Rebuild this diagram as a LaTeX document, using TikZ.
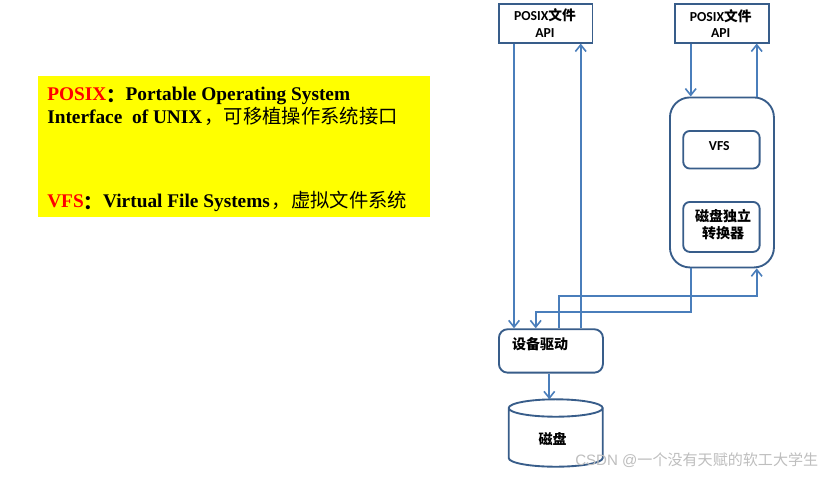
\documentclass[tikz,border=0pt]{standalone}
\usepackage{fontspec}
\setmainfont{Liberation Serif}
\setsansfont{Liberation Sans}
\newfontfamily\cjk{Noto Sans CJK SC}
\newfontfamily\lab{Carlito}
\usetikzlibrary{arrows.meta}
\definecolor{edgeblue}{HTML}{385D8A}
\definecolor{linkblue}{HTML}{4A7EBB}
\definecolor{panely}{RGB}{255,255,0}
\definecolor{notered}{RGB}{255,0,0}
\definecolor{markgray}{RGB}{190,190,190}
\tikzset{
  box/.style={draw=edgeblue,line width=1.4pt,fill=white,inner sep=0pt,anchor=north west},
  rbox/.style={box,rounded corners=#1},
  link/.style={draw=linkblue,line width=1.3pt,-{Straight Barb[length=5pt,width=8pt,line width=1.2pt]}},
  boxtext/.style={font=\lab\bfseries\fontsize{10.3}{12.6}\selectfont,align=center,text=black,inner sep=0pt},
  cjktext/.style={font=\cjk\bfseries\fontsize{10.5}{12.8}\selectfont,align=center,text=black,inner sep=0pt},
  note/.style={font=\rmfamily\bfseries\fontsize{14.5}{19}\selectfont,anchor=west,text=black,inner sep=0pt},
}
\newcommand{\bx}[6]{\node[#2,minimum width=#5*0.75pt,minimum height=#6*0.75pt] (#1) at (#3,#4) {};}
\newcommand{\zh}[1]{{\cjk\mdseries #1}}
\newcommand{\zhc}{\raisebox{-1.5pt}{\cjk\bfseries ：}}
\begin{document}
\begin{tikzpicture}[x=0.75pt,y=-0.75pt]
\useasboundingbox (0,0) rectangle (830,476);
\fill[white] (0,0) rectangle (830,476);
% yellow panel
\node[fill=panely,inner sep=0pt,anchor=north west,minimum width=392*0.75pt,minimum height=141*0.75pt] (panel) at (38,76) {};
\node[note,anchor=base west] (n1) at (47,100.7) {\textcolor{notered}{POSIX}\zhc Portable Operating System};
\node[note,anchor=base west] (n2) at (47,123.4) {Interface\ \ of UNIX\kern1.5pt\zh{，可移植操作系统接口}};
\node[note,anchor=base west] (n3) at (47,207.7) {\textcolor{notered}{VFS}\zhc Virtual File Systems\kern1.5pt\zh{，虚拟文件系统}};
% boxes
\bx{p1}{box}{498}{3}{93.5}{38.7}
\bx{p2}{box}{674.3}{3}{93.5}{38.7}
\bx{big}{rbox=15pt}{669}{96.5}{104}{170}
\bx{vfs}{rbox=5pt}{682.3}{130}{76.4}{37.6}
\bx{conv}{rbox=5pt}{682.3}{201}{76.4}{50}
\bx{dev}{rbox=6.5pt}{498}{328.3}{104}{43.4}
% disk
\node[inner sep=0pt,anchor=north west,minimum width=94*0.75pt,minimum height=67.4*0.75pt] (disk) at (508.7,399.3) {};
\draw[edgeblue,line width=1.4pt,fill=white] (508.7,408) arc[x radius=47,y radius=8.7,start angle=180,end angle=0]
  arc[x radius=47,y radius=8.7,start angle=0,end angle=-180] -- (508.7,458)
  arc[x radius=47,y radius=8.7,start angle=180,end angle=0] -- (602.7,408);
% box labels
\node[boxtext] (t1) at (545,23) {POSIX{\cjk 文件}\\API};
\node[boxtext] (t2) at (720.7,23.5) {POSIX{\cjk 文件}\\API};
\node[boxtext] (t3) at (719.3,146) {VFS};
\node[cjktext] (t4) at (723,225) {磁盘独立\\转换器};
\node[cjktext] (t5) at (540,344) {设备驱动};
\node[cjktext] (t6) at (552.7,439) {磁盘};
% connector columns
\coordinate (xa) at (514,0);
\coordinate (xb) at (580.7,0);
\coordinate (xc) at (690.7,0);
\coordinate (xd) at (756.7,0);
\coordinate (xe) at (535.7,0);
\coordinate (xf) at (558.7,0);
\coordinate (xg) at (549.3,0);
\coordinate (yh) at (0,311.7);
\coordinate (yi) at (0,295.7);
% connectors
\draw[link] (xa |- p1.south) -- (xa |- dev.north);
\draw[link] (xb |- dev.north) -- (xb |- p1.south);
\draw[link] (xc |- p2.south) -- (xc |- big.north);
\draw[link] (xd |- big.north) -- (xd |- p2.south);
\draw[link] (xc |- big.south) -- (xc |- yh) -- (xe |- yh) -- (xe |- dev.north);
\draw[link] (xf |- dev.north) -- (xf |- yi) -- (xd |- yi) -- (xd |- big.south);
\draw[link] (xg |- dev.south) -- (xg |- disk.north);
% watermark
\node[font=\sffamily\fontsize{11.3}{14}\selectfont,text=markgray,inner sep=0pt,anchor=west] (mark) at (575,460) {CSDN @\zh{一个没有天赋的软工大学生}};
\end{tikzpicture}
\end{document}
